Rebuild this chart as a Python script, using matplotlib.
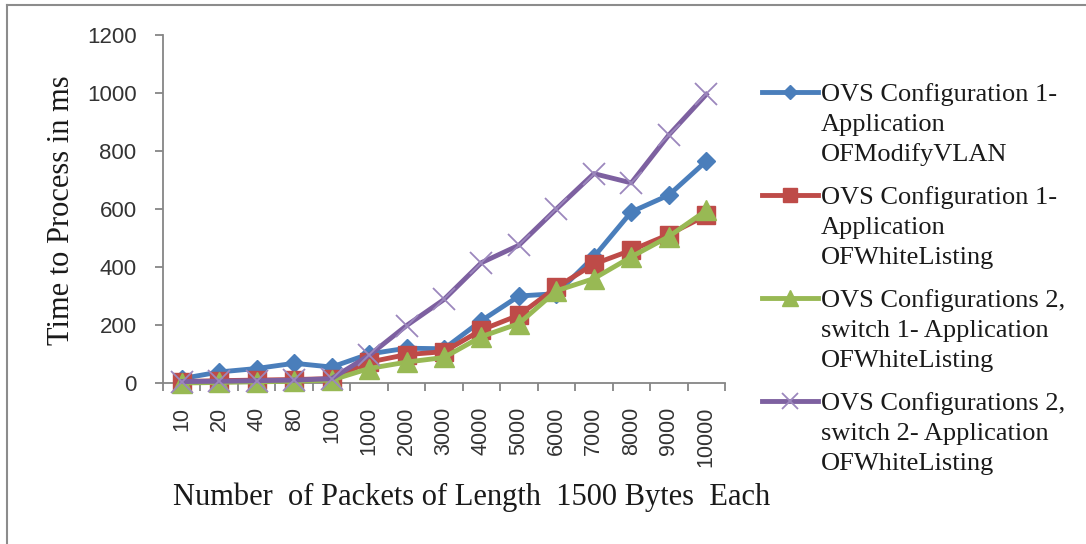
import matplotlib
matplotlib.use("Agg")
import matplotlib.pyplot as plt
from matplotlib.lines import Line2D
import numpy as np

# Packet counts on the x axis
categories = ['10', '20', '40', '80', '100', '1000', '2000', '3000', '4000',
              '5000', '6000', '7000', '8000', '9000', '10000']

# Processing time (ms) for each configuration
ovs1_modify_vlan = [15, 38, 50, 68, 55, 100, 120, 118, 215, 300, 308, 435, 590, 648, 765]
ovs1_whitelisting = [5, 8, 10, 12, 15, 72, 98, 108, 183, 234, 330, 410, 458, 512, 578]
ovs2_sw1_whitelisting = [0, 2, 4, 6, 10, 50, 72, 88, 160, 205, 318, 360, 435, 505, 595]
ovs2_sw2_whitelisting = [5, 6, 8, 10, 15, 95, 198, 288, 415, 475, 600, 722, 690, 855, 995]

series_labels = [
    ["OVS Configuration 1-", "Application", "OFModifyVLAN"],
    ["OVS Configuration 1-", "Application", "OFWhiteListing"],
    ["OVS Configurations 2,", "switch 1- Application", "OFWhiteListing"],
    ["OVS Configurations 2,", "switch 2- Application", "OFWhiteListing"],
]

y_ticks = [0, 200, 400, 600, 800, 1000, 1200]

W, H = 1086, 544
fig = plt.figure(figsize=(W / 100, H / 100), dpi=100)

def fx(px):
    return px / W

def fy(py):
    return 1 - py / H

ax = fig.add_axes([fx(163), fy(383), fx(725) - fx(163), fy(35) - fy(383)])

styles = [
    dict(color='#4A7EBB', marker='D', ms=9.5, mec='#4A7EBB', mew=1),
    dict(color='#BE4B48', marker='s', ms=13, mec='#BE4B48', mew=1),
    dict(color='#98B954', marker='^', ms=14.5, mec='#98B954', mew=1),
    dict(color='#7D60A0', marker='x', ms=16, mec='#9C87BD', mew=1.3),
]
series = [ovs1_modify_vlan, ovs1_whitelisting, ovs2_sw1_whitelisting, ovs2_sw2_whitelisting]

x = np.arange(len(categories))
for i, (vals, st) in enumerate(zip(series, styles)):
    ax.plot(x, vals, lw=3.5, solid_joinstyle='round', zorder=3 + i, clip_on=False, **st)

axis_gray = '#868686'
text_gray = '#333333'

ax.set_xlim(-0.5, len(categories) - 0.5)
ax.set_ylim(0, 1200)
for s in ['top', 'right']:
    ax.spines[s].set_visible(False)
for s in ['left', 'bottom']:
    ax.spines[s].set_color(axis_gray)
    ax.spines[s].set_linewidth(1.3)

# Tick marks between categories, labels centered on categories
ax.set_xticks(np.arange(len(categories) + 1) - 0.5)
ax.set_xticklabels([])
ax.set_xticks(x, minor=True)
ax.set_xticklabels(categories, minor=True, rotation=90, ha='center', va='top',
                   fontsize=15.5, color=text_gray, family='Liberation Sans')
ax.tick_params(axis='x', which='major', length=6, width=1.3, color=axis_gray, direction='out')
ax.tick_params(axis='x', which='minor', length=0, pad=17)

ax.set_yticks(y_ticks)
ax.set_yticklabels([str(v) for v in y_ticks], fontsize=16, color=text_gray, family='Liberation Sans')
ax.tick_params(axis='y', length=6, width=1.3, color=axis_gray, direction='out', pad=13)

fig.text(fx(62), fy(210), "Time to Process in ms", rotation=90, ha='center', va='center',
         fontsize=22, family='Liberation Serif', color='#1a1a1a')
fig.text(fx(472), fy(497), "Number  of Packets of Length  1500 Bytes  Each", ha='center', va='center',
         fontsize=22, family='Liberation Serif', color='#1a1a1a')

# Legend drawn entry by entry, handle aligned with the first text line
entry_tops = [92, 195, 298, 401]
line_gap = 30
for top, st, lab in zip(entry_tops, styles, series_labels):
    fig.add_artist(Line2D([fx(762), fx(818)], [fy(top), fy(top)], transform=fig.transFigure,
                          color=st['color'], lw=3.5))
    fig.add_artist(Line2D([fx(790)], [fy(top)], transform=fig.transFigure, linestyle='none',
                          marker=st['marker'], ms=st['ms'] * 0.75, color=st['color'],
                          mec=st['mec'], mew=st['mew']))
    for k, line in enumerate(lab):
        fig.text(fx(821), fy(top + k * line_gap + 9), line, ha='left', va='baseline',
                 fontsize=19, family='Liberation Serif', color='#1a1a1a')

# Outer frame (top and left edges)
fig.add_artist(Line2D([fx(7), fx(7)], [fy(5), 0], transform=fig.transFigure, color='#8c8c8c', lw=1.5))
fig.add_artist(Line2D([fx(7), 1], [fy(5), fy(5)], transform=fig.transFigure, color='#8c8c8c', lw=1.5))

fig.savefig("out.png", dpi=100)
